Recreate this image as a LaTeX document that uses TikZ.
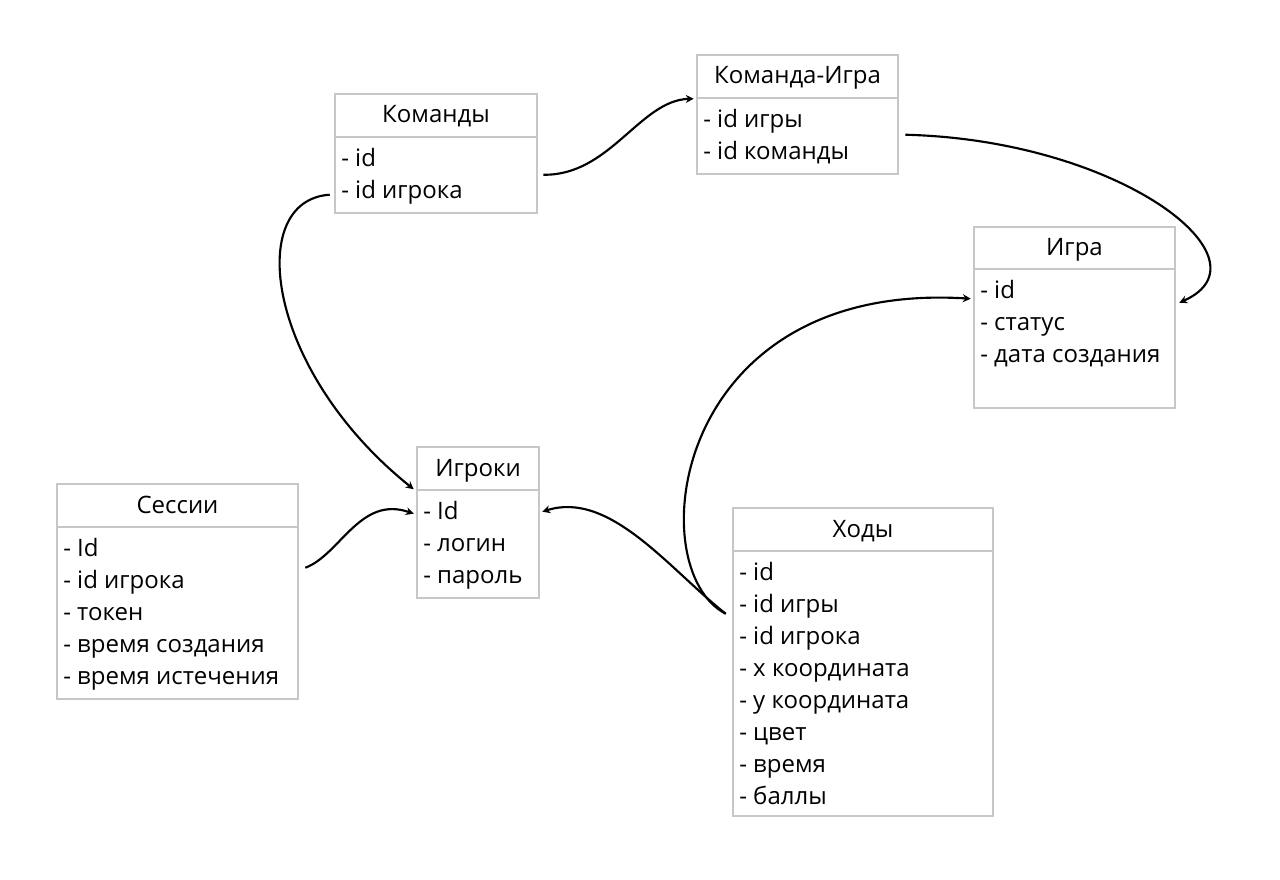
\documentclass[tikz,border=0pt]{standalone}
\usepackage{fontspec}
\setmainfont{Open Sans}
\usetikzlibrary{arrows.meta,calc,fit}
\tikzset{
  tbox/.style={draw=black!22, line width=1.9pt, inner sep=0pt, fill=none},
  ttitle/.style={anchor=base, inner sep=0pt, font=\fontsize{18pt}{21pt}\selectfont},
  trow/.style={anchor=base west, inner sep=0pt, font=\fontsize{18pt}{21pt}\selectfont},
  link/.style={line width=1.6pt, -{Stealth[length=6pt,width=6pt,inset=2pt]}},
}
% #1 name, #2 x1, #3 x2, #4 ytop, #5 ydiv, #6 ybot, #7 title, #8 rows
\newcommand{\dbtable}[8]{%
  \node[tbox, fit={(#2,#4) (#3,#5)}] (#1h) {};
  \node[ttitle] (#1t) at ({(#2+#3)/2},#4+29) {#7};
  \node[tbox, fit={(#2,#5) (#3,#6)}] (#1b) {};
  \foreach \r [count=\i] in {#8} {
    \node[trow] (#1r\i) at (#2+6,#5+29.5+32*\i-32) {\r};
  }
}
\begin{document}
\begin{tikzpicture}[x=0.75pt,y=-0.75pt]
\useasboundingbox (0,0) rectangle (1280,880);
\fill[white] (0,0) rectangle (1280,880);

\dbtable{k}{335}{537}{94}{137}{213}{Команды}{- id,- id игрока}
\dbtable{ki}{697}{898}{55}{98}{174}{Команда-Игра}{- id игры,- id команды}
\dbtable{g}{974}{1175}{227}{269}{408}{Игра}{- id,- статус,- дата создания}
\dbtable{p}{417}{539}{447}{490}{598}{Игроки}{- Id,- логин,- пароль}
\dbtable{s}{57}{298}{484}{527}{699}{Сессии}{- Id,- id игрока,- токен,- время создания,- время истечения}
\dbtable{x}{733}{993}{508}{551}{816}{Ходы}{- id,- id игры,- id игрока,- x координата,- y координата,- цвет,- время,- баллы}

% Команды -> Команда-Игра
\draw[link] ($(kb.north east)+(5,39)$) .. controls (610,176) and (640,100) .. ($(kib.north west)+(-2,2)$);
% Команды -> Игроки
\draw[link] ($(kb.north west)+(-4,59)$) .. controls (245,200) and (265,370) .. ($(ph.south west)+(-2,-2)$);
% Команда-Игра -> Игра
\draw[link] ($(kib.north east)+(6,38)$) .. controls (1120,140) and (1275,260) .. ($(gb.north east)+(3,35)$);
% Ходы -> Игра
\draw[link] ($(xb.north west)+(-6,64)$) .. controls (640,570) and (670,280) .. ($(gb.north west)+(-2,31)$);
% Ходы -> Игроки
\draw[link] ($(xb.north west)+(-6,64)$) .. controls (670,570) and (610,490) .. ($(pb.north east)+(2,23)$);
% Сессии -> Игроки
\draw[link] ($(sb.north east)+(6,42)$) .. controls (340,555) and (360,495) .. ($(pb.north west)+(-2,25)$);
\end{tikzpicture}
\end{document}
